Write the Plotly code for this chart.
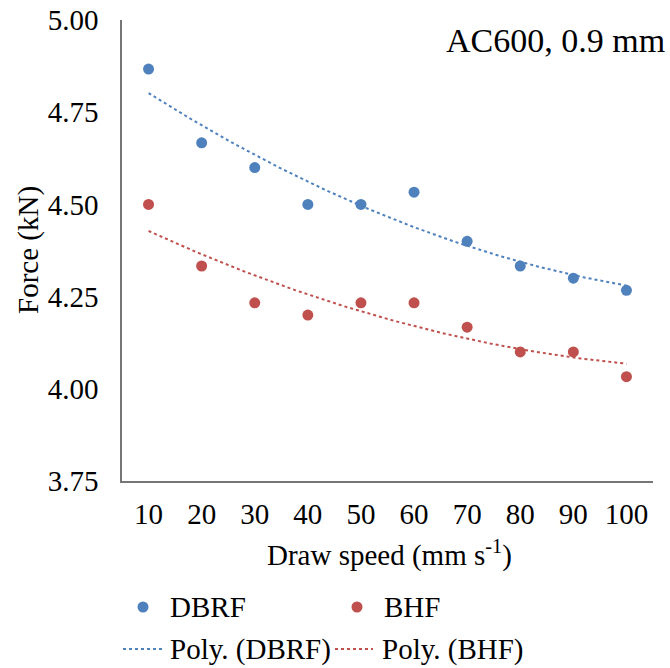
import numpy as np
import plotly.graph_objects as go

speeds = [10, 20, 30, 40, 50, 60, 70, 80, 90, 100]
dbrf = [4.867, 4.667, 4.600, 4.500, 4.500, 4.533, 4.400, 4.333, 4.300, 4.267]
bhf = [4.500, 4.333, 4.233, 4.200, 4.233, 4.233, 4.167, 4.100, 4.100, 4.033]
y_ticks = [3.75, 4.00, 4.25, 4.50, 4.75, 5.00]

BLUE = "#4F81BD"
RED = "#C0504D"
FONT = "Liberation Serif, Times New Roman, serif"
FS = 29

W, H = 670, 668
L, R, T, B = 122, 17, 20, 187

def px(x):
    return (x - L) / (W - L - R)

def py(y):
    return (H - B - y) / (H - T - B)

x_arr = np.array(speeds, dtype=float)
fit_x = np.linspace(10, 100, 200)
fit_d = np.polyval(np.polyfit(x_arr, dbrf, 2), fit_x)
fit_b = np.polyval(np.polyfit(x_arr, bhf, 2), fit_x)

fig = go.Figure()
fig.add_trace(go.Scatter(x=fit_x, y=fit_d, mode="lines",
                         line=dict(color=BLUE, width=2, dash="dot"), showlegend=False))
fig.add_trace(go.Scatter(x=fit_x, y=fit_b, mode="lines",
                         line=dict(color=RED, width=2, dash="dot"), showlegend=False))
fig.add_trace(go.Scatter(x=speeds, y=dbrf, mode="markers",
                         marker=dict(color=BLUE, size=11), showlegend=False))
fig.add_trace(go.Scatter(x=speeds, y=bhf, mode="markers",
                         marker=dict(color=RED, size=11), showlegend=False))

shapes = []
annotations = []
# title
annotations.append(dict(text="AC600, 0.9 mm", x=px(667), y=py(41), xref="paper", yref="paper",
                        xanchor="right", yanchor="middle", showarrow=False,
                        font=dict(family=FONT, size=34, color="black")))
# axis titles
annotations.append(dict(text="Draw speed (mm s<sup>-1</sup>)", x=px(389), y=py(553),
                        xref="paper", yref="paper", xanchor="center", yanchor="middle",
                        showarrow=False, font=dict(family=FONT, size=FS, color="black")))
annotations.append(dict(text="Force (kN)", x=px(28), y=py(250), textangle=-90,
                        xref="paper", yref="paper", xanchor="center", yanchor="middle",
                        showarrow=False, font=dict(family=FONT, size=FS, color="black")))
# legend
leg = [("marker", BLUE, 143, 607, "DBRF", 168),
       ("marker", RED, 357, 607, "BHF", 382),
       ("line", BLUE, (123, 165), 649, "Poly. (DBRF)", 168),
       ("line", RED, (335, 373), 649, "Poly. (BHF)", 380)]
for kind, col, xp, yp, label, tx in leg:
    if kind == "marker":
        shapes.append(dict(type="circle", xref="paper", yref="paper",
                           xsizemode="pixel", ysizemode="pixel",
                           xanchor=px(xp), yanchor=py(yp), x0=-5.5, x1=5.5, y0=-5.5, y1=5.5,
                           fillcolor=col, line=dict(width=0)))
    else:
        shapes.append(dict(type="line", xref="paper", yref="paper",
                           x0=px(xp[0]), x1=px(xp[1]), y0=py(yp), y1=py(yp),
                           line=dict(color=col, width=2, dash="dot")))
    annotations.append(dict(text=label, x=px(tx), y=py(yp), xref="paper", yref="paper",
                            xanchor="left", yanchor="middle", showarrow=False,
                            font=dict(family=FONT, size=FS, color="black")))

fig.update_layout(
    width=W, height=H,
    margin=dict(l=L, r=R, t=T, b=B, autoexpand=False),
    paper_bgcolor="white", plot_bgcolor="white",
    font=dict(family=FONT, color="black"),
    shapes=shapes, annotations=annotations,
    xaxis=dict(range=[5, 105], tickmode="array", tickvals=speeds, automargin=False,
               ticktext=[str(s) for s in speeds], showgrid=False, zeroline=False,
               showline=True, linecolor="#767676", linewidth=1.5, ticks="",
               tickfont=dict(family=FONT, size=FS), ticklabelstandoff=6),
    yaxis=dict(range=[3.75, 5.0], tickmode="array", tickvals=y_ticks, automargin=False,
               ticktext=["%.2f" % v for v in y_ticks], showgrid=False, zeroline=False,
               showline=True, linecolor="#767676", linewidth=1.5, ticks="",
               tickfont=dict(family=FONT, size=FS), ticklabelstandoff=16),
)

fig.write_html("out.html", config={"displayModeBar": False},
               post_script="document.body.style.margin='0';")
